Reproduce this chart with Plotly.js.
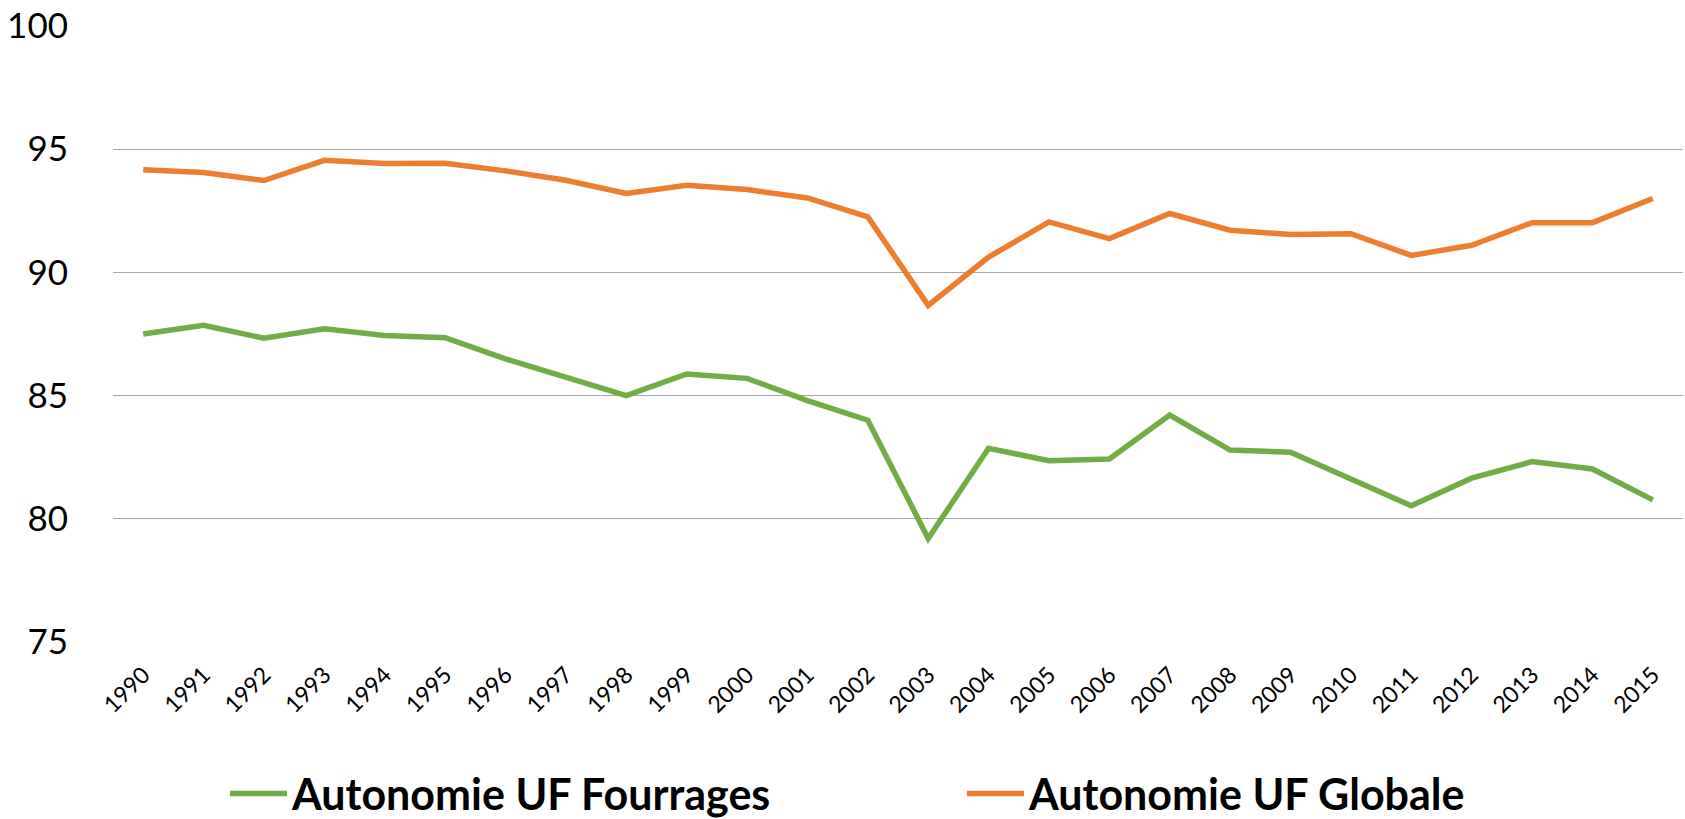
<!DOCTYPE html>
<html>
<head>
<meta charset="utf-8">
<script src="https://cdn.plot.ly/plotly-3.0.1.min.js"></script>
<style>
  html, body { margin: 0; padding: 0; background: #ffffff; }
  #chart { width: 1685px; height: 819px; }
</style>
</head>
<body>
<div id="chart"></div>
<script>
const years = ["1990","1991","1992","1993","1994","1995","1996","1997","1998","1999","2000","2001","2002","2003","2004","2005","2006","2007","2008","2009","2010","2011","2012","2013","2014","2015"];
const fourrages = [87.5, 87.85, 87.33, 87.71, 87.44, 87.35, 86.49, 85.75, 85.0, 85.88, 85.7, 84.8, 84.0, 79.2, 82.86, 82.36, 82.43, 84.21, 82.79, 82.7, 81.62, 80.53, 81.65, 82.32, 82.02, 80.77];
const globale = [94.17, 94.05, 93.73, 94.55, 94.42, 94.43, 94.12, 93.74, 93.2, 93.54, 93.36, 93.02, 92.25, 88.66, 90.62, 92.05, 91.37, 92.39, 91.71, 91.54, 91.57, 90.69, 91.1, 92.02, 92.02, 93.0];
const seriesNames = ["Autonomie UF Fourrages", "Autonomie UF Globale"];
const yTicks = [75, 80, 85, 90, 95, 100];

const traces = [
  { x: years, y: fourrages, name: seriesNames[0], type: "scatter", mode: "lines",
    line: { color: "#70AD47", width: 5.5 } },
  { x: years, y: globale, name: seriesNames[1], type: "scatter", mode: "lines",
    line: { color: "#ED7D31", width: 5.5 } }
];

const layout = {
  width: 1685, height: 819,
  margin: { l: 113, r: 2, t: 26, b: 177 },
  paper_bgcolor: "#ffffff", plot_bgcolor: "#ffffff",
  font: { family: "Lato, 'Open Sans', sans-serif", color: "#000000" },
  showlegend: true,
  legend: {
    orientation: "h",
    xref: "container", x: 0.1335, xanchor: "left",
    yref: "container", y: 0.031, yanchor: "middle",
    font: { size: 43, family: "Lato, sans-serif", weight: "bold", color: "#000000" },
    itemwidth: 57, entrywidth: 665, entrywidthmode: "pixels",
    bgcolor: "rgba(0,0,0,0)"
  },
  xaxis: {
    type: "category", range: [-0.5, 25.5],
    tickangle: -45, tickfont: { size: 23 }, ticklabelstandoff: 14,
    showgrid: false, showline: false, zeroline: false, ticks: ""
  },
  yaxis: {
    range: [75, 100], tickvals: yTicks, ticktext: yTicks.map(String),
    tickfont: { size: 35 }, ticklabelstandoff: 44,
    showgrid: true, gridcolor: "#A6A6A6", gridwidth: 1.3,
    showline: false, zeroline: false, ticks: ""
  }
};

Plotly.newPlot("chart", traces, layout, { displayModeBar: false, staticPlot: true });
</script>
</body>
</html>
